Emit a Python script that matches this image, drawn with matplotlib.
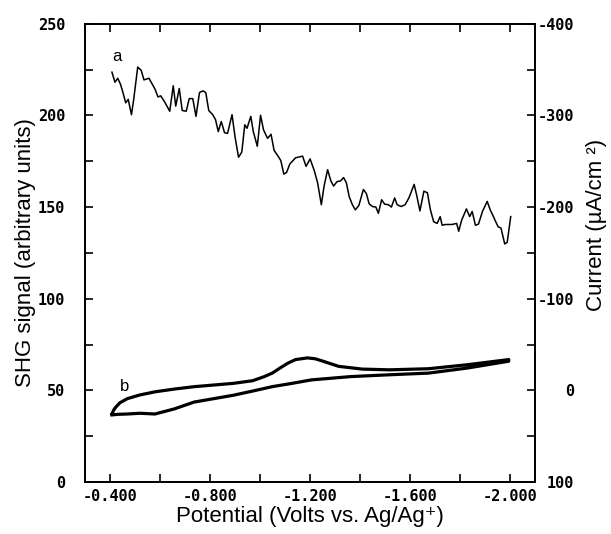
import matplotlib
matplotlib.use("Agg")
import matplotlib.pyplot as plt

# ── curve a: SHG signal vs potential ──
pot_a = [-0.408, -0.420, -0.431, -0.442, -0.452, -0.463, -0.473, -0.486, -0.495, -0.511,
         -0.525, -0.536, -0.556, -0.580, -0.592, -0.603, -0.619, -0.639, -0.653, -0.663,
         -0.677, -0.689, -0.705, -0.717, -0.731, -0.744, -0.758, -0.772, -0.783, -0.795,
         -0.811, -0.822, -0.833, -0.845, -0.858, -0.870, -0.888, -0.900, -0.914, -0.927,
         -0.939, -0.948, -0.963, -0.973, -0.989, -1.002, -1.014, -1.030, -1.044, -1.056,
         -1.070, -1.083, -1.095, -1.106, -1.119, -1.142, -1.170, -1.184, -1.200, -1.217,
         -1.230, -1.245, -1.256, -1.270, -1.283, -1.294, -1.308, -1.322, -1.334, -1.345,
         -1.356, -1.369, -1.381, -1.395, -1.413, -1.425, -1.436, -1.450, -1.463, -1.473,
         -1.486, -1.498, -1.513, -1.525, -1.538, -1.548, -1.564, -1.580, -1.595, -1.616,
         -1.627, -1.639, -1.655, -1.669, -1.681, -1.694, -1.708, -1.720, -1.728, -1.741,
         -1.767, -1.786, -1.794, -1.806, -1.825, -1.838, -1.848, -1.861, -1.873, -1.889,
         -1.908, -1.920, -1.933, -1.942, -1.952, -1.963, -1.978, -1.988, -2.002]
shg_a = [223.6, 218.1, 220.3, 217.1, 212.5, 206.9, 208.8, 200.4, 208.8, 226.4,
         224.6, 219.4, 220.3, 214.4, 210.1, 210.7, 207.3, 202.3, 216.2, 205.1,
         214.7, 202.7, 202.3, 209.2, 209.2, 199.5, 212.5, 213.4, 212.5, 202.7,
         200.4, 197.7, 191.2, 196.7, 190.6, 190.2, 200.4, 188.4, 177.2, 180.0,
         194.9, 193.0, 199.5, 191.2, 183.2, 200.1, 192.1, 187.5, 189.7, 181.0,
         178.2, 175.4, 168.0, 168.9, 173.5, 176.9, 177.8, 172.2, 176.3, 169.8,
         163.3, 151.3, 161.5, 170.4, 164.3, 161.5, 163.9, 164.3, 166.1, 163.3,
         155.9, 151.3, 148.5, 150.9, 159.6, 157.4, 151.8, 150.3, 150.0, 146.6,
         154.0, 151.6, 151.3, 150.0, 155.0, 151.3, 150.3, 151.3, 155.0, 162.4,
         155.9, 147.9, 158.7, 157.8, 148.5, 142.0, 141.1, 144.8, 140.1, 140.5,
         140.5, 141.1, 136.8, 142.9, 149.0, 144.8, 147.6, 140.1, 140.7, 147.6,
         153.1, 148.5, 144.8, 142.0, 139.2, 138.6, 129.9, 130.8, 144.8]

# ── curve b: cyclic voltammogram (current, µA/cm²) ──
pot_b = [-0.408, -0.415, -0.423, -0.440, -0.470, -0.520, -0.580, -0.660, -0.736, -0.892,
         -0.970, -1.017, -1.050, -1.080, -1.110, -1.142, -1.189, -1.220,
         -1.252, -1.314, -1.408, -1.517, -1.673, -1.830, -1.994,
         -1.994, -1.830, -1.673, -1.517, -1.361, -1.205, -1.127, -1.048, -0.970,
         -0.892, -0.736, -0.658, -0.580, -0.520, -0.470, -0.430, -0.408]
cur_b = [25.8, 21.5, 18.4, 13.5, 9.0, 5.0, 1.6, -1.5, -4.0, -7.6,
         -10.5, -15.0, -19.0, -24.4, -29.5, -33.6, -35.4, -34.5,
         -31.8, -26.2, -23.2, -22.4, -23.6, -28.0, -33.6,
         -31.8, -24.4, -18.8, -17.0, -15.0, -11.4, -7.6, -4.0, 0.8,
         5.4, 12.8, 20.2, 25.8, 25.0, 25.8, 26.2, 26.8]

x_ticks = [-0.4, -0.6, -0.8, -1.0, -1.2, -1.4, -1.6, -1.8, -2.0]
x_labels = ["-0.400", "", "-0.800", "", "-1.200", "", "-1.600", "", "-2.000"]
shg_ticks = [0, 25, 50, 75, 100, 125, 150, 175, 200, 225, 250]
shg_labels = ["0", "", "50", "", "100", "", "150", "", "200", "", "250"]
cur_ticks = [100, 50, 0, -50, -100, -150, -200, -250, -300, -350, -400]
cur_labels = ["100", "", "0", "", "-100", "", "-200", "", "-300", "", "-400"]

plt.rcParams["axes.unicode_minus"] = False
tick_font = dict(family="DejaVu Sans Mono", weight="bold", size=11)
label_font = dict(family=["Liberation Sans", "DejaVu Sans"], size=16)

fig = plt.figure(figsize=(6.11, 5.34), dpi=100)
ax = fig.add_axes([0.139, 0.0974, 0.737, 0.858])
ax2 = ax.twinx()

ax.plot(pot_a, shg_a, color="black", lw=1.1)
ax2.plot(pot_b, cur_b, color="black", lw=2.3, solid_joinstyle="round")

ax.set_xlim(-0.3, -2.1)
ax.set_ylim(0, 250)
ax2.set_ylim(100, -400)

ax.set_xticks(x_ticks)
ax.set_xticklabels(x_labels, **tick_font)
ax.set_yticks(shg_ticks)
ax.set_yticklabels(shg_labels, **tick_font)
ax2.set_yticks(cur_ticks)
ax2.set_yticklabels(cur_labels, ha="right", **tick_font)

ax.tick_params(axis="x", direction="in", length=6, width=1.2, top=True, pad=5)
ax.tick_params(axis="y", direction="in", length=6, width=1.2, pad=14)
ax2.tick_params(axis="y", direction="in", length=6, width=1.2, pad=28)
for a in (ax, ax2):
    for s in a.spines.values():
        s.set_linewidth(1.3)

ax.set_xlabel("Potential (Volts vs. Ag/Ag⁺)", **label_font)
ax.set_ylabel("SHG signal (arbitrary units)", **label_font)
ax2.set_ylabel("Current (µA/cm ²)", **label_font)
ax.xaxis.set_label_coords(0.5, -0.052)
ax.yaxis.set_label_coords(-0.108, 0.5)
ax2.yaxis.set_label_coords(1.113, 0.56)

ax.text(-0.408, 232, "a", fontsize=12, family="Liberation Sans", ha="left", va="center")
ax.text(-0.439, 52, "b", fontsize=12, family="Liberation Sans", ha="left", va="center")

fig.savefig("out.png", dpi=100)
